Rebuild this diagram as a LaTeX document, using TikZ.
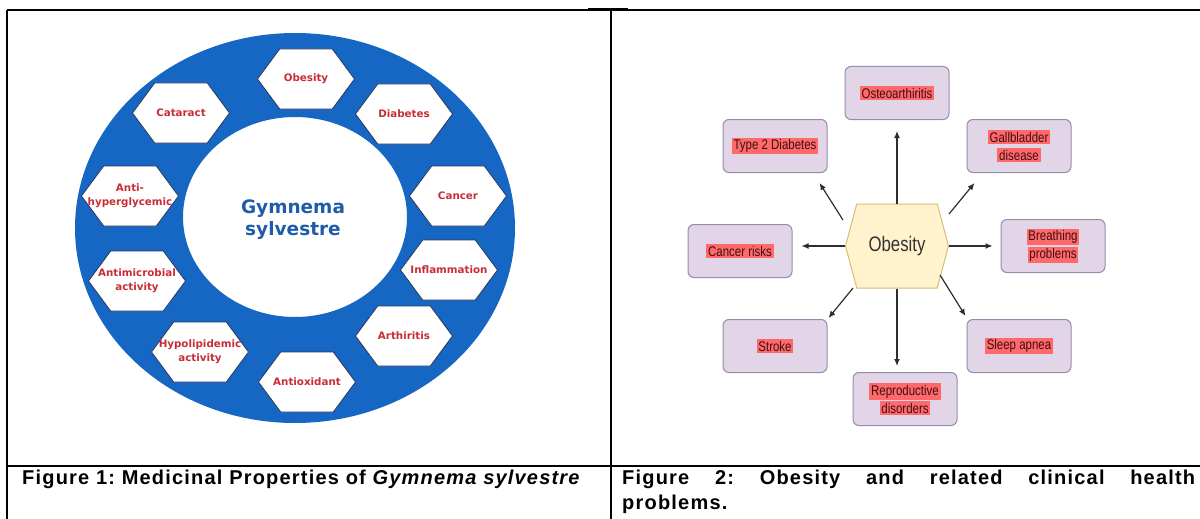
\documentclass[tikz,border=0pt]{standalone}
\usepackage{fontspec}
\setmainfont{Liberation Sans}
\newfontfamily\labelfont{DejaVu Sans}
\newfontfamily\narrowfont[FakeStretch=0.82]{Liberation Sans}
\newfontfamily\hexfont[FakeStretch=0.8]{Liberation Sans}
\newfontfamily\capfont[LetterSpace=6]{Liberation Sans}
\usetikzlibrary{shapes.symbols,arrows.meta}
\frenchspacing

\definecolor{ringblue}{RGB}{22,102,196}
\definecolor{titleblue}{RGB}{30,92,168}
\definecolor{labelred}{RGB}{200,45,55}
\definecolor{hexline}{RGB}{40,55,90}
\definecolor{obfill}{RGB}{255,242,204}
\definecolor{obline}{RGB}{214,190,120}
\definecolor{boxfill}{RGB}{225,213,231}
\definecolor{boxline}{RGB}{150,140,170}
\definecolor{hlred}{RGB}{255,105,105}
\definecolor{hltext}{RGB}{60,15,20}
\definecolor{arrowgray}{RGB}{45,45,45}

% highlighted label text
\newcommand{\hlt}[1]{{\setlength{\fboxsep}{1.8pt}\colorbox{hlred}{#1}}}

\tikzset{
  tableline/.style={line width=1.8pt, black},
  hexL/.style={signal, signal to=east and west, signal pointer angle=107,
    draw=hexline, line width=0.8pt, fill=white, inner sep=0pt,
    minimum width=97, minimum height=60},
  hexlab/.style={font=\labelfont\bfseries\fontsize{10.3}{14}\selectfont,
    text=labelred, align=center, inner sep=0pt},
  hexO/.style={signal, signal to=east and west, signal pointer angle=150,
    draw=obline, line width=1pt, fill=obfill, inner sep=0pt,
    minimum width=103, minimum height=84,
    font=\hexfont\fontsize{21}{24}\selectfont, text={rgb,255:red,50;green,50;blue,50}},
  condbox/.style={rectangle, rounded corners=6pt, draw=boxline, line width=1pt,
    fill=boxfill, minimum width=104, minimum height=53, inner sep=0pt,
    align=center, text=hltext, font=\narrowfont\fontsize{14}{18}\selectfont},
  arr/.style={draw=arrowgray, line width=1.2pt, -{Latex[length=7pt,width=6pt]}},
  caption/.style={font=\capfont\bfseries\fontsize{20}{25}\selectfont, inner sep=0pt}
}

\begin{document}
\begin{tikzpicture}[x=1pt, y=-1pt]
\useasboundingbox (0,0) rectangle (1200,519);

% ---------- table frame ----------
\draw[tableline] (7,10) -- (1200,10);
\draw[line width=3pt] (588,10) -- (628,10);
\draw[tableline] (7,10) -- (7,519);
\draw[tableline] (611,10) -- (611,519);
\draw[tableline] (7,466) -- (1200,466);

% ---------- left panel: medicinal properties ----------
\fill[ringblue, even odd rule]
  (295,228) ellipse [x radius=220, y radius=195]
  (295,217) ellipse [x radius=112, y radius=100];

\node[font=\labelfont\bfseries\fontsize{18.5}{22}\selectfont, text=titleblue,
      align=center] (gs) at (293,220) {Gymnema\\sylvestre};

\node[hexL, label={[hexlab]center:Obesity}]                (p1)  at (306,79)  {};
\node[hexL, label={[hexlab]center:Diabetes}]               (p2)  at (404,114) {};
\node[hexL, label={[hexlab]center:Cancer}]                 (p3)  at (458,196) {};
\node[hexL, label={[hexlab]center:Inflammation}]           (p4)  at (449,270) {};
\node[hexL, label={[hexlab]center:Arthiritis}]             (p5)  at (404,336) {};
\node[hexL, label={[hexlab]center:Antioxidant}]            (p6)  at (307,382) {};
\node[hexL, label={[hexlab]center:Hypolipidemic\\activity}] (p7)  at (200,352) {};
\node[hexL, label={[hexlab]center:Antimicrobial\\activity}] (p8)  at (137,281) {};
\node[hexL, label={[hexlab]center:Anti-\\hyperglycemic}]    (p9)  at (130,196) {};
\node[hexL, label={[hexlab]center:Cataract}]               (p10) at (181,113) {};

% ---------- right panel: obesity and related problems ----------
\node[hexO] (ob) at (897,246) {Obesity};

\node[condbox] (oa) at (897,93)  {\hlt{Osteoarthiritis}};
\node[condbox] (td) at (775,146) {\hlt{Type 2 Diabetes}};
\node[condbox] (gb) at (1019,146) {\hlt{Gallbladder}\\\hlt{disease}};
\node[condbox] (bp) at (1053,246) {\hlt{Breathing}\\\hlt{problems}};
\node[condbox] (cr) at (740,251) {\hlt{Cancer risks}};
\node[condbox] (st) at (775,346) {\hlt{Stroke}};
\node[condbox] (rd) at (905,399) {\hlt{Reproductive}\\\hlt{disorders}};
\node[condbox] (sa) at (1019,346) {\hlt{Sleep apnea}};

\draw[arr, shorten >=11pt] (ob.north) -- (oa.south);
\draw[arr] ([shift={(-2,-26)}]ob.west) -- ([shift={(-8,10)}]td.south east);
\draw[arr] ([shift={(0,-32)}]ob.east) -- ([shift={(8,10)}]gb.south west);
\draw[arr, shorten >=8pt] (ob.east) -- (ob.east -| bp.west);
\draw[arr, shorten >=9pt] (ob.west) -- (ob.west -| cr.east);
\draw[arr] ([shift={(-44,42)}]ob.center) -- ([shift={(1,-1)}]st.north east);
\draw[arr, shorten >=6pt] (ob.south) -- (ob.south |- rd.north);
\draw[arr] ([shift={(43,29)}]ob.center) -- ([shift={(-1,-3)}]sa.north west);

% ---------- captions ----------
\node[caption, anchor=base west] (c1) at (22,484)
  {Figure 1: Medicinal Properties of \textit{Gymnema sylvestre}};
\node[caption, anchor=base west, text width=573, align=justify] (c2) at (622,484)
  {Figure 2: Obesity and related clinical health\linebreak problems.};
\end{tikzpicture}
\end{document}
